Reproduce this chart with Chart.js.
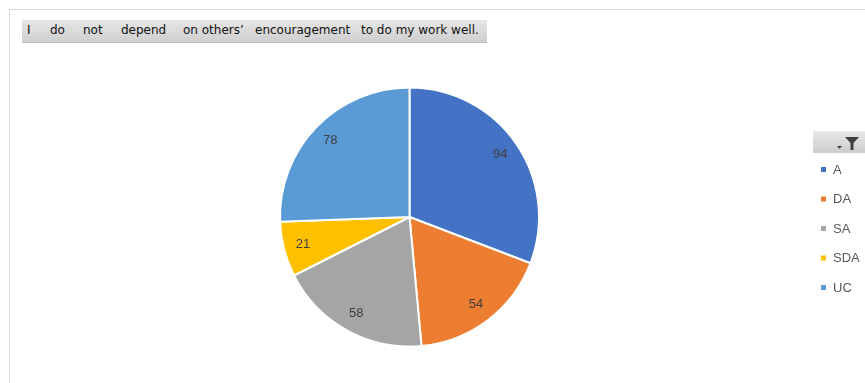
<!DOCTYPE html>
<html>
<head>
<meta charset="utf-8">
<script src="https://cdn.jsdelivr.net/npm/chart.js@4"></script>
<style>
  html, body { margin: 0; padding: 0; background: #fff; }
  #wrap { position: relative; width: 865px; height: 383px; overflow: hidden; }
  #frame { position: absolute; left: 9px; top: 9px; width: 900px; height: 400px; border: 1px solid #d9d9d9; box-sizing: border-box; }
  #titlebox { position: absolute; left: 22px; top: 20px; width: 465px; height: 23px;
    background: linear-gradient(#e6e6e6, #cfcfcf); border-bottom: 1px solid #bfbfbf; box-sizing: border-box; }
  #titlebox span { position: absolute; top: 3px; font: 12px "DejaVu Sans", sans-serif; color: #111; white-space: pre; }
  canvas { position: absolute; left: 0; top: 0; }
</style>
</head>
<body>
<div id="wrap">
  <div id="frame"></div>
  <div id="titlebox">
    <span style="left:5px">I</span>
    <span style="left:28px">do</span>
    <span style="left:61px">not</span>
    <span style="left:99px">depend</span>
    <span style="left:161px">on others’</span>
    <span style="left:233px">encouragement</span>
    <span style="left:339px">to do my work well.</span>
  </div>
  <canvas id="chart" width="865" height="383"></canvas>
</div>
<script>
const categories = ["A", "DA", "SA", "SDA", "UC"];
const responses = [94, 54, 58, 21, 78];
const sliceColors = ["#4472c4", "#ed7d31", "#a5a5a5", "#ffc000", "#5b9bd5"];

// Value labels drawn inside each slice, near the outer edge
const sliceLabels = {
  id: "sliceLabels",
  afterDatasetsDraw(chart) {
    const ctx = chart.ctx;
    const meta = chart.getDatasetMeta(0);
    ctx.save();
    ctx.font = '13px "Liberation Sans", Arial, sans-serif';
    ctx.fillStyle = "#404040";
    ctx.textAlign = "center";
    ctx.textBaseline = "middle";
    meta.data.forEach((arc, i) => {
      const p = arc.getProps(["x", "y", "startAngle", "endAngle", "outerRadius"], true);
      const mid = (p.startAngle + p.endAngle) / 2;
      const r = p.outerRadius * 0.85;
      ctx.fillText(String(chart.data.datasets[0].data[i]), p.x + Math.cos(mid) * r, p.y + Math.sin(mid) * r);
    });
    ctx.restore();
  }
};

// Legend at the right with a filter button header
const sideLegend = {
  id: "sideLegend",
  afterDraw(chart) {
    const ctx = chart.ctx;
    ctx.save();
    // filter button
    const bx = 813, by = 131, bw = 60, bh = 22;
    const g = ctx.createLinearGradient(0, by, 0, by + bh);
    g.addColorStop(0, "#e8e8e8");
    g.addColorStop(1, "#cccccc");
    ctx.fillStyle = g;
    ctx.fillRect(bx, by, bw, bh);
    ctx.fillStyle = "#404040";
    // small dropdown arrow
    ctx.beginPath();
    ctx.moveTo(837, 146); ctx.lineTo(842, 146); ctx.lineTo(839.5, 149); ctx.closePath(); ctx.fill();
    // funnel
    ctx.beginPath();
    ctx.moveTo(845, 137); ctx.lineTo(859, 137); ctx.lineTo(853.5, 143); ctx.lineTo(853.5, 150);
    ctx.lineTo(850.5, 150); ctx.lineTo(850.5, 143); ctx.closePath(); ctx.fill();

    ctx.font = '13px "Liberation Sans", Arial, sans-serif';
    ctx.textBaseline = "middle";
    ctx.textAlign = "left";
    chart.data.labels.forEach((lab, i) => {
      const y = 170 + i * 29.5;
      ctx.fillStyle = sliceColors[i];
      ctx.fillRect(821, y - 3, 5, 5);
      ctx.fillStyle = "#595959";
      ctx.fillText(lab, 833, y);
    });
    ctx.restore();
  }
};

new Chart(document.getElementById("chart"), {
  type: "pie",
  data: {
    labels: categories,
    datasets: [{
      data: responses,
      backgroundColor: sliceColors,
      borderColor: "#ffffff",
      borderWidth: 2
    }]
  },
  options: {
    responsive: false,
    animation: false,
    layout: { padding: { left: 279, right: 325, top: 85, bottom: 34 } },
    plugins: { legend: { display: false }, tooltip: { enabled: false } }
  },
  plugins: [sliceLabels, sideLegend]
});
</script>
</body>
</html>
